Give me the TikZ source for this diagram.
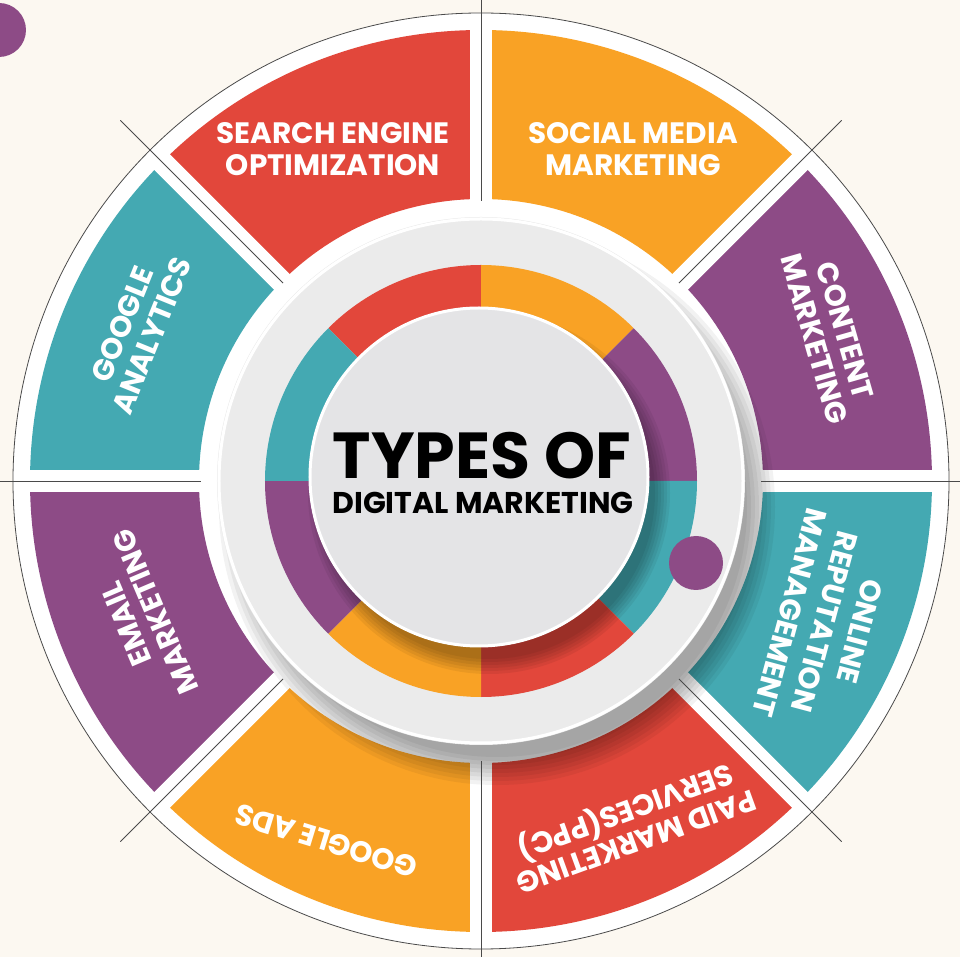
\documentclass[tikz,border=0pt]{standalone}
\usepackage{fontspec}
\setmainfont{Poppins}
\definecolor{segred}{HTML}{E2473B}
\definecolor{segorange}{HTML}{F9A225}
\definecolor{segpurple}{HTML}{8D4B86}
\definecolor{segteal}{HTML}{44A9B2}
\definecolor{bgcream}{HTML}{FCF8F1}
\definecolor{diskgray}{HTML}{EBEBEB}
\definecolor{centergray}{HTML}{E4E4E6}
\definecolor{rimline}{HTML}{4A4A4A}
\tikzset{
  lbl/.style={text=white, font=\fontsize{29.5}{32}\selectfont\bfseries, align=center, inner sep=0pt},
  divider/.style={draw=rimline, line width=0.8pt},
  gapline/.style={draw=white, line width=22pt},
}
\begin{document}
\begin{tikzpicture}[x=1pt,y=1pt]
\useasboundingbox (-481,-476) rectangle (479,481);
\fill[bgcream] (-481,-476) rectangle (479,481);
% decorative dot top-left
\fill[segpurple] (-482,451) circle[radius=27pt];
% outer white disc
\fill[white] (0,0) circle[radius=468pt];
% outer segments
\foreach \a/\c in {90/segred,45/segorange,0/segpurple,-45/segteal,-90/segred,-135/segorange,180/segpurple,135/segteal}{
  \pgfmathsetmacro\b{\a+45}
  \fill[\c] (\a:282pt) arc[start angle=\a, end angle=\b, radius=282pt] -- (\b:451pt) arc[start angle=\b, end angle=\a, radius=451pt] -- cycle;
}
% white gaps between segments
\foreach \a in {0,45,...,315}{
  \draw[gapline] (\a:240pt) -- (\a:460pt);
}
% soft shadow of the grey disc
\begin{scope}
\clip (0,0) circle[radius=451pt];
\foreach \k in {0,...,7}{
  \fill[black,opacity=0.05] (16,-26) circle[radius=250pt+\k*4pt];
}
\end{scope}
% outer rim and dividers
\draw[rimline, line width=0.8pt] (0,0) circle[radius=468pt];
\foreach \a in {0,45,...,315}{
  \draw[divider] (\a:280pt) -- (\a:510pt);
}
% grey disc
\fill[diskgray] (0,0) circle[radius=264pt];
\draw[white, line width=3pt] (0,0) circle[radius=262pt];
% coloured inner ring
\foreach \a/\c in {90/segred,45/segorange,0/segpurple,-45/segteal,-90/segred,-135/segorange,180/segpurple,135/segteal}{
  \pgfmathsetmacro\b{\a+45}
  \fill[\c] (0,0) -- (\a:216pt) arc[start angle=\a, end angle=\b, radius=216pt] -- cycle;
}
% shadow of centre disc
\foreach \k in {0,...,5}{
  \fill[black,opacity=0.06] (8,-12) circle[radius=166pt+\k*3pt];
}
% centre disc
\fill[centergray] (-2,4) circle[radius=170pt];
\draw[white, line width=3pt] (-2,4) circle[radius=169pt];
% purple dot
\fill[segpurple] (215,-82) circle[radius=27pt];
% title
\node[font=\fontsize{65}{65}\selectfont\bfseries, inner sep=0pt] (title) at (1,25) {TYPES OF};
\node[font=\fontsize{30}{30}\selectfont\bfseries, inner sep=0pt] (subtitle) at (2,-22) {DIGITAL MARKETING};
% labels
\node[lbl] (seo) at (-148,332) {SEARCH ENGINE\\OPTIMIZATION};
\node[lbl] (smm) at (152,332) {SOCIAL MEDIA\\MARKETING};
\node[lbl, rotate=-74] (cm) at (349,146) {CONTENT\\MARKETING};
\node[lbl, rotate=-105, font=\fontsize{29.5}{36}\selectfont\bfseries] (orm) at (344,-141) {ONLINE\\REPUTATION\\MANAGEMENT};
\node[lbl, rotate=-160] (ppc) at (149,-343) {PAID MARKETING\\SERVICES(PPC)};
\node[lbl, rotate=163] (ads) at (-155,-360) {GOOGLE ADS};
\node[lbl, rotate=113] (email) at (-340,-137) {EMAIL\\MARKETING};
\node[lbl, rotate=68] (ga) at (-344,151) {GOOGLE\\ANALYTICS};
\end{tikzpicture}
\end{document}
